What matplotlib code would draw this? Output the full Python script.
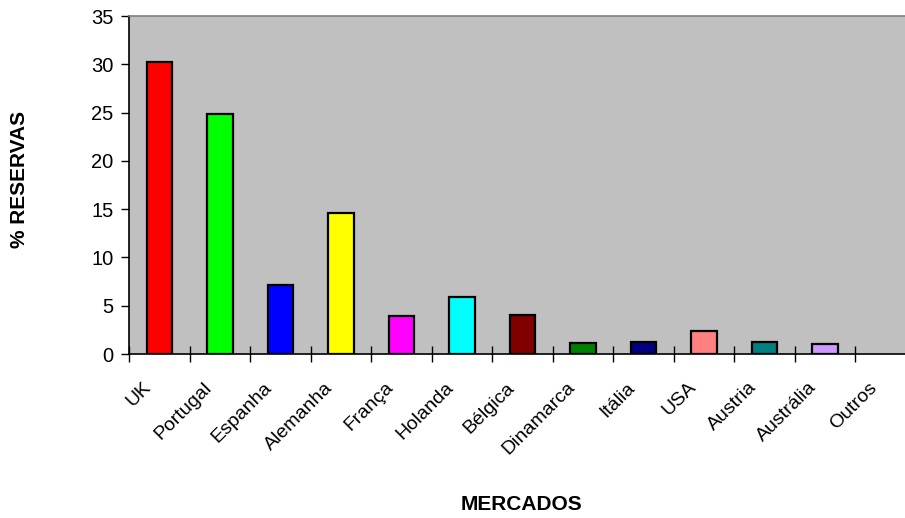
import matplotlib
matplotlib.use("Agg")
import matplotlib.pyplot as plt
import matplotlib.transforms as mtransforms
import numpy as np

categories = ["UK", "Portugal", "Espanha", "Alemanha", "França", "Holanda", "Bélgica",
              "Dinamarca", "Itália", "USA", "Austria", "Austrália", "Outros"]
values = [30.2, 24.9, 7.15, 14.6, 3.93, 5.93, 4.07, 1.17, 1.24, 2.38, 1.24, 1.07, 0.0]
colors = ["#FF0000", "#00FF00", "#0000FF", "#FFFF00", "#FF00FF", "#00FFFF", "#800000",
          "#008000", "#000080", "#FF8080", "#008080", "#CC99FF", "#C0C0C0"]
y_ticks = [0, 5, 10, 15, 20, 25, 30, 35]

plt.rcParams['font.family'] = ['Liberation Sans', 'DejaVu Sans']

fig = plt.figure(figsize=(9.05, 5.18), dpi=100)
W, H = 905, 518
left, right, top, bottom = 129, 916, 16, 354
ax = fig.add_axes([left / W, 1 - bottom / H, (right - left) / W, (bottom - top) / H])
ax.set_facecolor("#C0C0C0")

x = np.arange(len(categories))
lws = [1.6 if v > 0 else 0 for v in values]
ax.bar(x, values, width=0.42, color=colors, edgecolor="black", linewidth=lws, zorder=3)

ax.set_xlim(-0.5, len(categories) - 0.5)
ax.set_ylim(0, 35)
ax.set_yticks(y_ticks)
ax.tick_params(axis='y', direction='out', length=6, width=1, labelsize=14.5, pad=5)

ax.set_xticks(x)
ax.set_xticklabels(categories, rotation=45, ha='right', va='top', rotation_mode='anchor',
                   fontsize=14)
ax.tick_params(axis='x', which='major', length=0, pad=0)
offset = mtransforms.ScaledTranslation(-17 / 100, -25 / 100, fig.dpi_scale_trans)
for lbl in ax.get_xticklabels():
    lbl.set_transform(lbl.get_transform() + offset)
ax.set_xticks(np.arange(len(categories) + 1) - 0.5, minor=True)
ax.tick_params(axis='x', which='minor', direction='inout', length=12, width=1)

for s in ['left', 'bottom']:
    ax.spines[s].set_color('black')
    ax.spines[s].set_linewidth(1.2)
for s in ['top', 'right']:
    ax.spines[s].set_color('#808080')
    ax.spines[s].set_linewidth(1.2)

fig.text(20 / W, 1 - 179 / H, "% RESERVAS", rotation=90, ha='center', va='center',
         fontsize=15, fontweight='bold')
fig.text(521 / W, 1 - 504 / H, "MERCADOS", ha='center', va='center',
         fontsize=15, fontweight='bold')

fig.savefig("out.png", dpi=100)
